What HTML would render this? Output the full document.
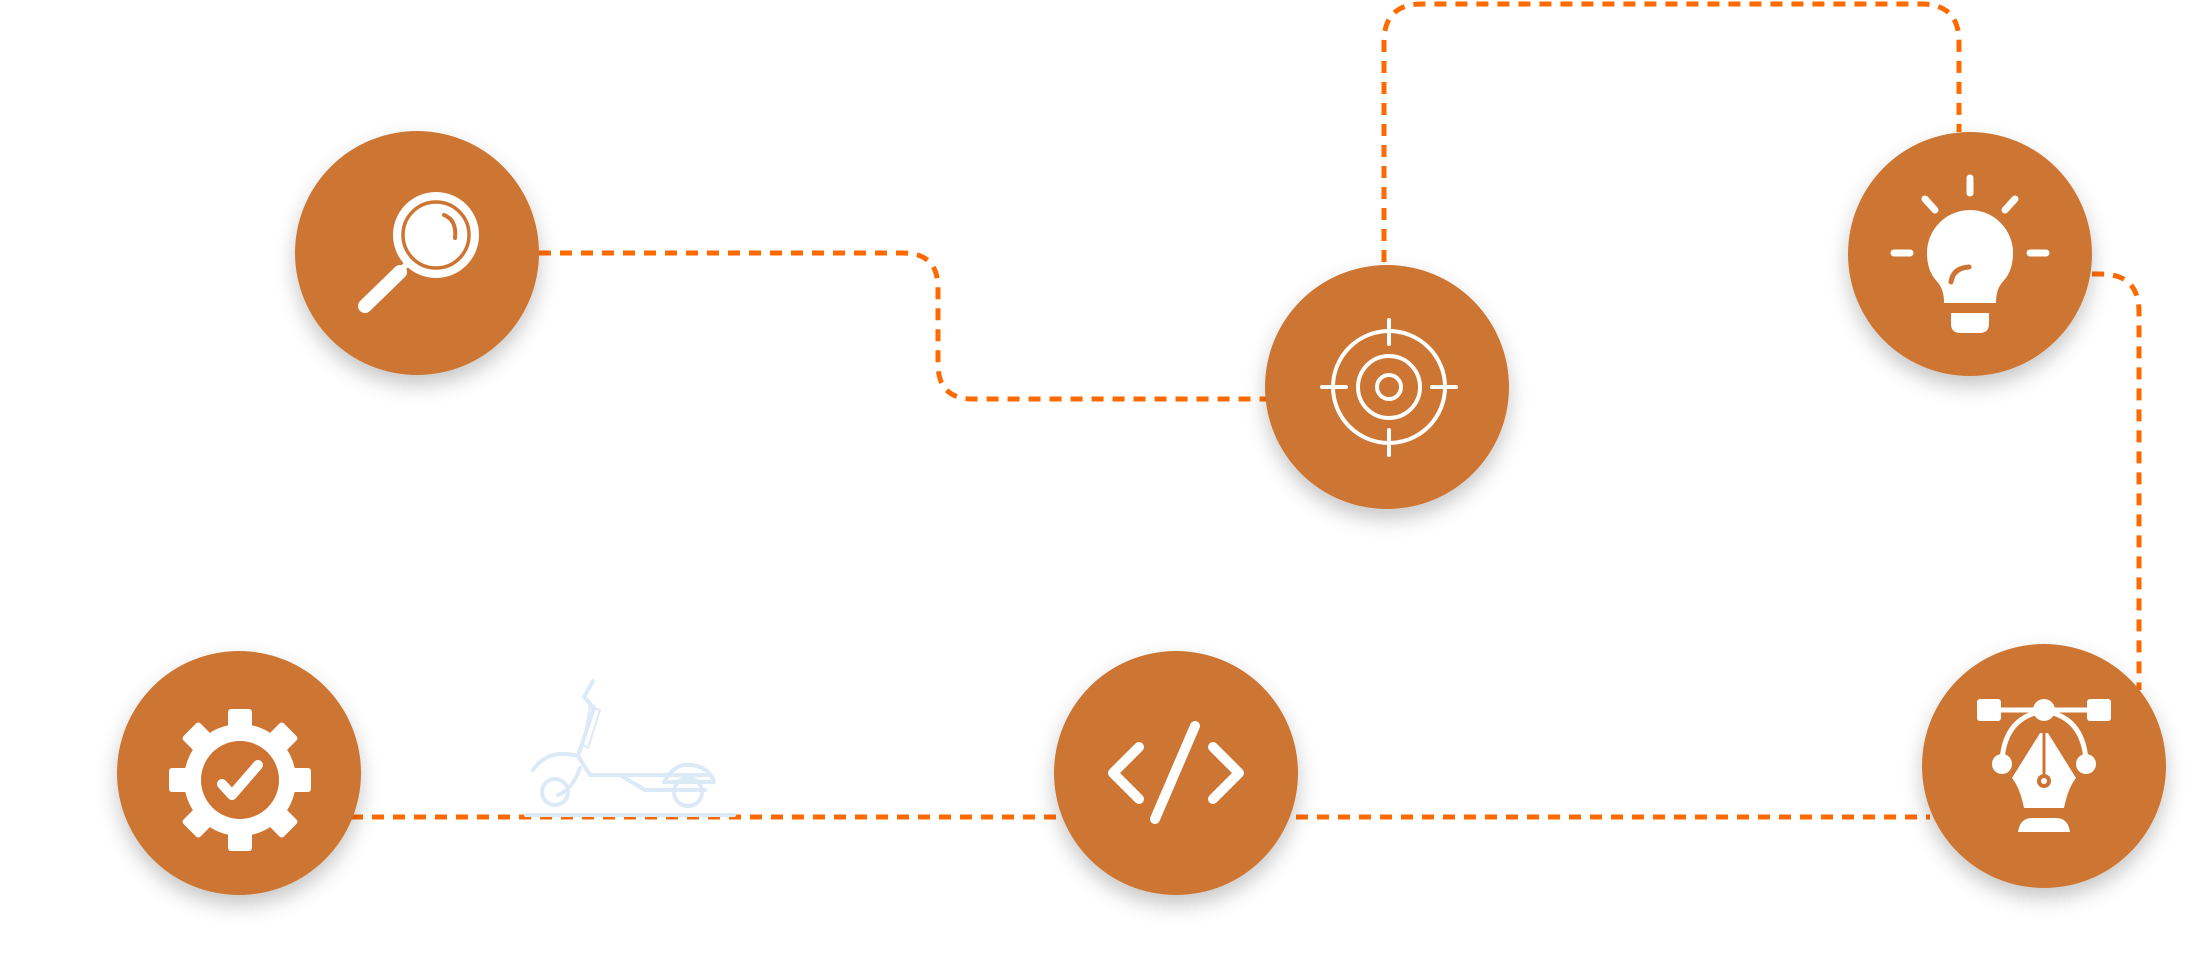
<!DOCTYPE html>
<html><head><meta charset="utf-8"><style>
html,body{margin:0;padding:0;background:#fff;width:2192px;height:960px;overflow:hidden}
svg{display:block}
</style></head><body>
<svg width="2192" height="960" viewBox="0 0 2192 960" xmlns="http://www.w3.org/2000/svg">
<defs>
<filter id="sh" x="-30%" y="-30%" width="160%" height="170%">
<feDropShadow dx="0" dy="10" stdDeviation="10" flood-color="#000" flood-opacity="0.22"/>
</filter>
</defs>
<g fill="none" stroke="#ff6a00" stroke-width="5" stroke-dasharray="12 9">
<path d="M539,253 H903 Q938,253 938,288 V364 Q938,399 973,399 H1268"/>
<path d="M1384,262 V42 Q1384,4 1422,4 H1921 Q1959,4 1959,42 V132"/>
<path d="M2092,274 H2101 Q2139,274 2139,312 V690"/>
<path d="M351,817 H1930"/>
</g>
<!-- scooter -->
<g fill="none" stroke="#dce9f7" stroke-width="4" stroke-linecap="round" stroke-linejoin="round">
<path d="M526,815 H734"/>
<path d="M593,681 L584,697 L594,708 L578,756 L590,775 H708"/>
<path d="M590,707 L600,710 L588,748 L583,745 Z" stroke-width="2"/>
<path d="M533,770 Q548,748 578,756"/>
<circle cx="555" cy="792" r="13"/>
<path d="M580,768 Q572,790 558,795"/>
<path d="M620,775 L645,790 H705"/>
<circle cx="688" cy="792" r="14"/>
<path d="M664,782 Q675,762 692,765 Q710,768 714,782 H664"/>
</g>
<!-- circles -->
<g fill="#cd7432" filter="url(#sh)">
<circle cx="417" cy="253" r="122"/>
<circle cx="1387" cy="387" r="122"/>
<circle cx="1970" cy="254" r="122"/>
<circle cx="239" cy="773" r="122"/>
<circle cx="1176" cy="773" r="122"/>
<circle cx="2044" cy="766" r="122"/>
</g>
<!-- magnifier -->
<circle cx="436" cy="235" r="43" fill="#fff"/>
<circle cx="436" cy="235" r="33" fill="#fff" stroke="#cd7432" stroke-width="3.5"/>
<path d="M444,215 Q457,220 455,238" stroke="#cd7432" stroke-width="4" fill="none" stroke-linecap="round"/>
<path d="M400,272 L365,306" stroke="#fff" stroke-width="14" stroke-linecap="round"/>
<path d="M403,268 L410,261" stroke="#fff" stroke-width="6"/>
<!-- target -->
<g stroke="#fff" fill="none" stroke-width="4" stroke-linecap="round">
<circle cx="1389" cy="387" r="56"/>
<circle cx="1389" cy="387" r="31"/>
<circle cx="1389" cy="387" r="12"/>
<path d="M1389,320 V344 M1389,430 V455 M1322,387 H1346 M1432,387 H1456"/>
</g>
<!-- bulb -->
<g stroke="#fff" fill="none" stroke-width="7" stroke-linecap="round">
<path d="M1970,178 V193 M1925,199 L1935,210 M2015,199 L2005,210 M1894,253 H1910 M2030,253 H2046"/>
<path d="M1945,302 Q1945,288 1937,280 Q1928,270 1928,253 A42,42 0 0 1 2012,253 Q2012,270 2003,280 Q1995,288 1995,302 Z" fill="#fff" stroke-width="2"/>
<path d="M1951,282 Q1953,268 1969,267" stroke="#cd7432" stroke-width="5"/>
<path d="M1952,314 H1988 V324 Q1988,332 1979,332 H1961 Q1952,332 1952,324 Z" fill="#fff" stroke-width="2"/>
</g>
<!-- gear -->
<g fill="#fff" transform="translate(240,780)">
<circle r="56"/>
<rect x="-12" y="-71" width="24" height="26" rx="3"/>
<rect x="-12" y="-71" width="24" height="26" rx="3" transform="rotate(45)"/>
<rect x="-12" y="-71" width="24" height="26" rx="3" transform="rotate(90)"/>
<rect x="-12" y="-71" width="24" height="26" rx="3" transform="rotate(135)"/>
<rect x="-12" y="-71" width="24" height="26" rx="3" transform="rotate(180)"/>
<rect x="-12" y="-71" width="24" height="26" rx="3" transform="rotate(225)"/>
<rect x="-12" y="-71" width="24" height="26" rx="3" transform="rotate(270)"/>
<rect x="-12" y="-71" width="24" height="26" rx="3" transform="rotate(315)"/>
<circle r="39" fill="#cd7432"/>
<path d="M-18,4 L-8,15 L18,-15" stroke="#fff" stroke-width="10" fill="none" stroke-linecap="round" stroke-linejoin="round"/>
</g>
<!-- code -->
<g stroke="#fff" fill="none" stroke-width="10" stroke-linecap="round" stroke-linejoin="round">
<path d="M1139,747 L1113,773 L1139,799"/>
<path d="M1213,747 L1239,773 L1213,799"/>
<path d="M1195,726 L1155,819"/>
</g>
<!-- pen tool -->
<g fill="#fff" stroke="#fff" stroke-linecap="round">
<rect x="1977" y="699" width="24" height="22" rx="3" stroke="none"/>
<rect x="2087" y="699" width="24" height="22" rx="3" stroke="none"/>
<path d="M2000,710 H2088" stroke-width="5"/>
<circle cx="2044" cy="710" r="11" stroke="none"/>
<path d="M2035,713 Q2005,722 2002,760 M2053,713 Q2083,722 2086,760" fill="none" stroke-width="5"/>
<circle cx="2002" cy="764" r="10" stroke="none"/>
<circle cx="2086" cy="764" r="10" stroke="none"/>
<path d="M2040,733 L2012,778 Q2020,788 2024,808 H2064 Q2068,788 2076,778 L2048,733 Z" stroke="none"/>
<path d="M2044,733 V773" stroke="#cd7432" stroke-width="3"/>
<circle cx="2044" cy="781" r="7" fill="#cd7432" stroke="none"/>
<circle cx="2044" cy="781" r="3" stroke="none"/>
<path d="M2018,832 Q2020,818 2032,818 H2056 Q2068,818 2070,832 Z" stroke="none"/>
</g>
</svg>
</body></html>
